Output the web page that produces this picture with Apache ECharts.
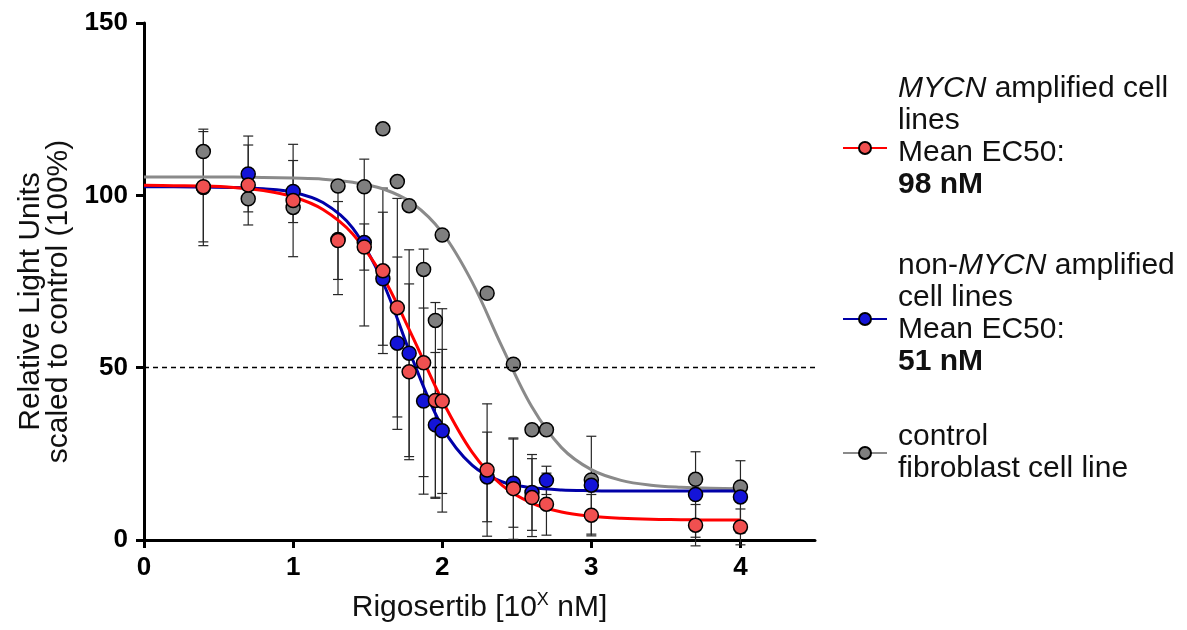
<!DOCTYPE html>
<html>
<head>
<meta charset="utf-8">
<script src="https://cdn.jsdelivr.net/npm/echarts@6/dist/echarts.min.js"></script>
<style>
  html, body { margin: 0; padding: 0; background: #fff; }
  #chart { width: 1187px; height: 630px; }
</style>
</head>
<body>
<div id="chart"></div>
<script>
// Rigosertib concentrations tested (nM); plotted on a log10 axis
const doseNM = [2.5, 5, 10, 20, 30, 40, 50, 60, 75, 90, 100, 200, 300, 400, 500, 1000, 5000, 10000];

// MYCN amplified cell lines: mean and SD, % of untreated control
const mycnMean = [102.5, 103.0, 98.5, 86.9, 85.0, 78.1, 67.4, 48.8, 51.4, 40.5, 40.3, 20.3, 14.9, 12.3, 10.4, 7.2, 4.3, 3.8];
const mycnSD   = [16.0, 11.6, 16.3, 11.3, 6.7, 24.0, 31.7, 25.5, 33.0, 28.4, 26.8, 19.2, 14.7, 11.3, 9.0, 6.0, 6.0, 5.2];

// non-MYCN amplified cell lines: mean and SD
const nonMycnMean = [102.3, 106.2, 101.1, 87.2, 86.3, 75.8, 57.1, 54.2, 40.3, 33.4, 31.7, 18.3, 16.5, 13.8, 17.3, 15.9, 13.2, 12.5];
const nonMycnSD   = [16.9, 11.0, 9.0, 16.0, 24.2, 19.3, 25.0, 30.0, 27.0, 21.0, 23.6, 13.0, 12.8, 11.0, 4.1, 14.2, 12.4, 10.5];

// control fibroblast cell line (single line, no error bars)
const fibroMean = [112.7, 99.0, 96.5, 102.7, 102.5, 119.3, 104.0, 97.0, 78.5, 63.7, 88.5, 71.6, 51.0, 32.0, 32.0, 17.4, 17.6, 15.4];

// fitted dose-response curves sampled every 0.2 log10 units
const curveLogDose = [0, 0.2, 0.4, 0.6, 0.8, 1.0, 1.2, 1.4, 1.6, 1.8, 2.0, 2.2, 2.4, 2.6, 2.8, 3.0, 3.2, 3.4, 3.6, 3.8, 4.0];
const mycnCurve    = [102.9, 102.8, 102.7, 102.3, 101.4, 99.6, 95.9, 88.8, 76.5, 59.1, 40.5, 25.5, 15.9, 10.7, 8.1, 6.9, 6.3, 6.0, 5.9, 5.8, 5.8];
const nonMycnCurve = [102.5, 102.5, 102.4, 102.3, 101.9, 100.9, 97.9, 90.5, 75.0, 52.5, 32.8, 21.7, 16.9, 15.2, 14.5, 14.3, 14.2, 14.2, 14.2, 14.2, 14.2];
const fibroCurve   = [105.3, 105.3, 105.3, 105.3, 105.2, 105.0, 104.7, 103.8, 101.9, 97.7, 89.2, 74.9, 56.2, 38.7, 26.8, 20.4, 17.3, 15.9, 15.3, 15.0, 14.9];

// axis ticks and reference level
const xTicks = [0, 1, 2, 3, 4];
const yTicks = [0, 50, 100, 150];
const halfMaxLevel = 50;

// series names and their legend text
const NAME_MYCN = 'MYCN amplified cell lines';
const NAME_NON = 'non-MYCN amplified cell lines';
const NAME_FIBRO = 'control fibroblast cell line';
const legendText = {};
legendText[NAME_MYCN] = '{i|MYCN}{n| amplified cell}\n{n|lines}\n{n|Mean EC50:}\n{b|98 nM}';
legendText[NAME_NON] = '{n|non-}{i|MYCN}{n| amplified}\n{n|cell lines}\n{n|Mean EC50:}\n{b|51 nM}';
legendText[NAME_FIBRO] = '{n|control}\n{n|fibroblast cell line}';

const FONT = '"Liberation Sans", Arial, Helvetica, sans-serif';
const logDose = doseNM.map(d => Math.log10(d));

const colors = {
  mycn:  { line: '#ff0000', fill: '#f05050' },
  non:   { line: '#0000a8', fill: '#1414d8' },
  fibro: { line: '#8a8a8a', fill: '#7f7f7f' }
};

function pairs(xs, ys) { return xs.map((x, i) => [x, ys[i]]); }

function errorBars(name, means, sds) {
  return {
    type: 'custom',
    name: name + ' SD',
    z: 2,
    silent: true,
    clip: false,
    encode: { x: 0, y: [1, 2] },
    data: logDose.map((x, i) => [x, means[i] - sds[i], means[i] + sds[i]]),
    renderItem(params, api) {
      const x = api.value(0);
      const lo = api.coord([x, api.value(1)]);
      const hi = api.coord([x, api.value(2)]);
      const w = 5;
      const style = { stroke: '#262626', lineWidth: 1.2, fill: null };
      return {
        type: 'group',
        children: [
          { type: 'line', shape: { x1: lo[0], y1: lo[1], x2: hi[0], y2: hi[1] }, style },
          { type: 'line', shape: { x1: lo[0] - w, y1: lo[1], x2: lo[0] + w, y2: lo[1] }, style },
          { type: 'line', shape: { x1: hi[0] - w, y1: hi[1], x2: hi[0] + w, y2: hi[1] }, style }
        ]
      };
    }
  };
}

function curve(name, ys, c, z, extra) {
  return Object.assign({
    type: 'line',
    name,
    z,
    data: pairs(curveLogDose, ys),
    smooth: 0.35,
    showSymbol: false,
    symbol: 'circle',
    symbolSize: 12,
    silent: true,
    lineStyle: { color: c.line, width: 3 },
    itemStyle: { color: c.fill, borderColor: '#000', borderWidth: 1.5 }
  }, extra || {});
}

function points(name, ys, c, z) {
  return {
    type: 'scatter',
    name: name + ' data',
    z,
    data: pairs(logDose, ys),
    symbol: 'circle',
    symbolSize: 14,
    silent: true,
    itemStyle: { color: c.fill, borderColor: '#000', borderWidth: 1.5, opacity: 1 }
  };
}

const legendRich = {
  n: { fontFamily: FONT, fontSize: 30, color: '#111', lineHeight: 32 },
  i: { fontFamily: FONT, fontSize: 30, color: '#111', fontStyle: 'italic', lineHeight: 32 },
  b: { fontFamily: FONT, fontSize: 30, color: '#111', fontWeight: 'bold', lineHeight: 32 }
};

// lift: extra space below the text block, raising the text relative to its icon
function legendFor(name, top, lift) {
  return {
    data: [name],
    orient: 'vertical',
    left: 837,
    top,
    itemWidth: 44,
    itemHeight: 15,
    selectedMode: false,
    formatter: n => legendText[n],
    textStyle: { rich: legendRich, padding: [0, 0, lift, 6] }
  };
}

const chart = echarts.init(document.getElementById('chart'), null, { renderer: 'canvas' });

chart.setOption({
  animation: false,
  backgroundColor: '#fff',
  grid: { left: 144, top: 23, width: 671, height: 517, containLabel: false },
  legend: [
    legendFor(NAME_MYCN, 69, 22),
    legendFor(NAME_NON, 246, 10),
    legendFor(NAME_FIBRO, 417, 0)
  ],
  xAxis: {
    type: 'value',
    min: 0,
    max: 4.5,
    interval: 1,
    splitLine: { show: false },
    axisLine: { onZero: false, lineStyle: { color: '#000', width: 3 } },
    axisTick: { customValues: xTicks, length: 8, lineStyle: { color: '#000', width: 3 } },
    axisLabel: {
      customValues: xTicks,
      margin: 15,
      fontFamily: FONT, fontSize: 26, fontWeight: 'bold', color: '#000'
    },
    name: '{t|Rigosertib [10}{s|X}{t| nM]}',
    nameLocation: 'middle',
    nameGap: 51,
    nameTextStyle: {
      rich: {
        t: { fontFamily: FONT, fontSize: 30, color: '#111', lineHeight: 34 },
        s: { fontFamily: FONT, fontSize: 18, color: '#111', lineHeight: 34, verticalAlign: 'top', padding: [0, 0, 14, 0] }
      }
    }
  },
  yAxis: {
    type: 'value',
    min: 0,
    max: 150,
    interval: 50,
    splitLine: { show: false },
    axisLine: { onZero: false, lineStyle: { color: '#000', width: 3 } },
    axisTick: { customValues: yTicks, length: 8, lineStyle: { color: '#000', width: 3 } },
    axisLabel: {
      customValues: yTicks,
      margin: 16,
      fontFamily: FONT, fontSize: 26, fontWeight: 'bold', color: '#000'
    },
    name: 'Relative Light Units\nscaled to control (100%)',
    nameLocation: 'middle',
    nameRotate: 90,
    nameGap: 70,
    // right padding nudges the rotated title a little below the axis midpoint
    nameTextStyle: { fontFamily: FONT, fontSize: 30, color: '#111', lineHeight: 28, padding: [0, 40, 0, 0] }
  },
  series: [
    errorBars(NAME_NON, nonMycnMean, nonMycnSD),
    errorBars(NAME_MYCN, mycnMean, mycnSD),
    curve(NAME_FIBRO, fibroCurve, colors.fibro, 3, {
      markLine: {
        silent: true,
        symbol: ['none', 'none'],
        label: { show: false },
        lineStyle: { color: '#000', type: [5, 4], width: 1.3 },
        data: [{ yAxis: halfMaxLevel }]
      }
    }),
    curve(NAME_NON, nonMycnCurve, colors.non, 3),
    curve(NAME_MYCN, mycnCurve, colors.mycn, 3),
    points(NAME_FIBRO, fibroMean, colors.fibro, 4),
    points(NAME_NON, nonMycnMean, colors.non, 5),
    points(NAME_MYCN, mycnMean, colors.mycn, 6)
  ]
});
</script>
</body>
</html>
